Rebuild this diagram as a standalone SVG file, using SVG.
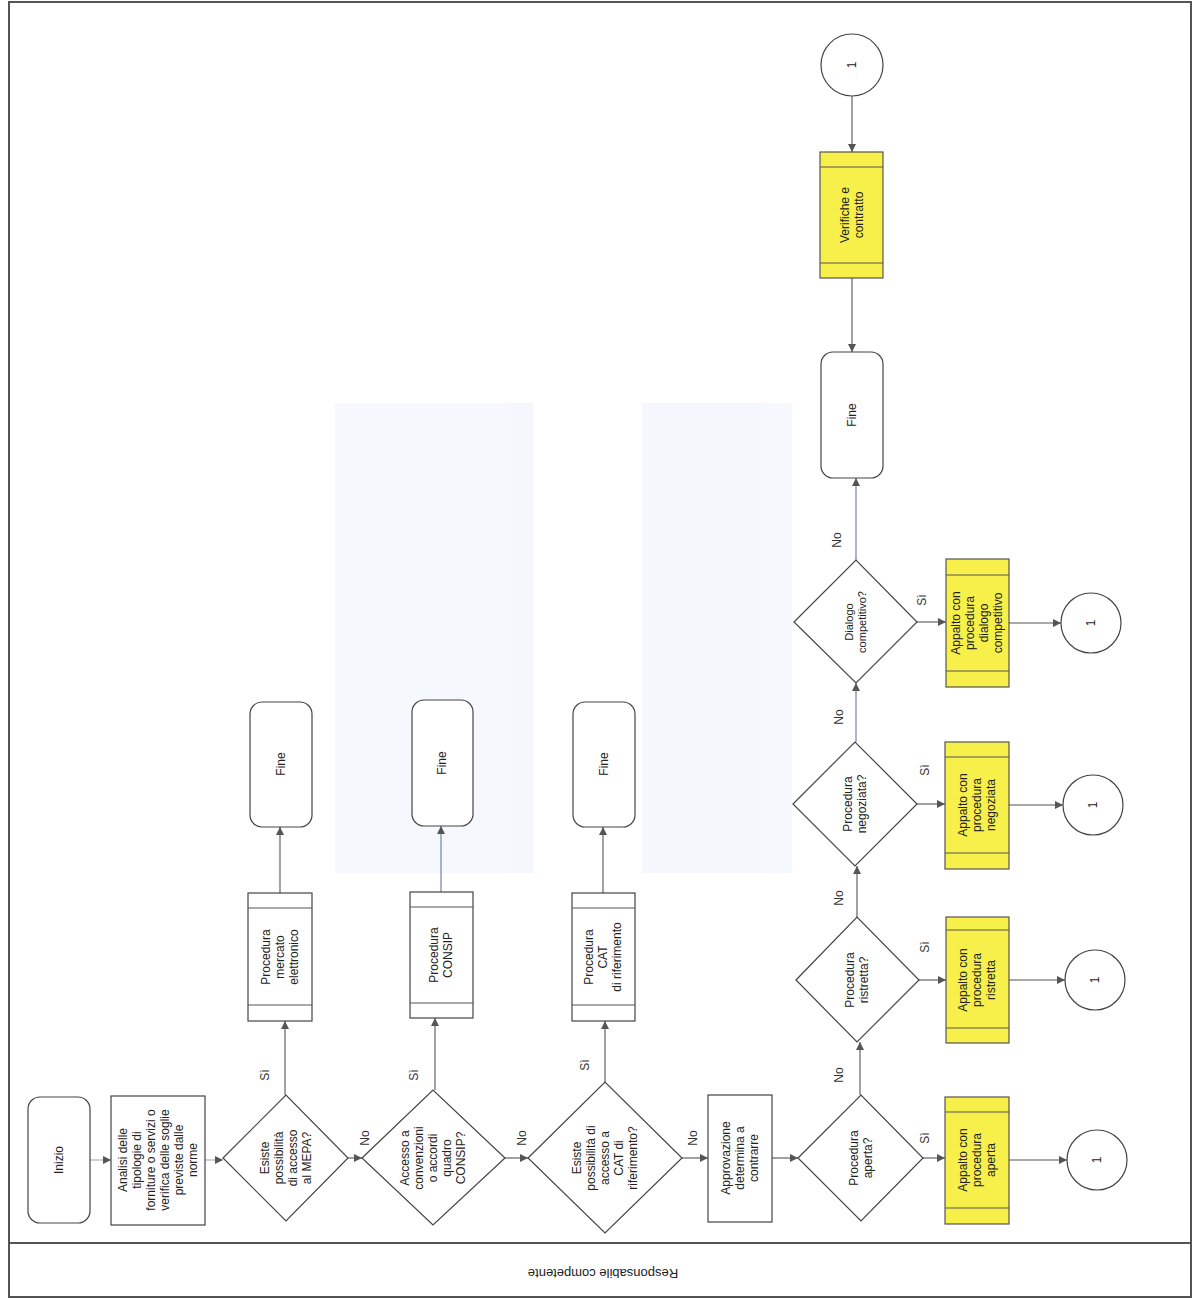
<svg xmlns="http://www.w3.org/2000/svg" width="1194" height="1299" viewBox="0 0 1194 1299">
<defs>
<style>
text{font-family:"Liberation Sans",Arial,sans-serif;font-size:12px;fill:#222;}
.lbl{font-size:12px;fill:#333;}
.node{fill:#fff;stroke:#444;stroke-width:1.2;}
.yel{fill:#f8f04a;stroke:#555;stroke-width:1.2;}
.band{stroke:#555;stroke-width:1;fill:none;}
.con{stroke:#555;stroke-width:1.1;fill:none;marker-end:url(#ah);}
.blue{stroke:#6a76a8;}
.light{stroke:#aaa;}
.frame{fill:none;stroke:#555;stroke-width:2;}
</style>
<marker id="ah" viewBox="0 0 10 10" refX="10" refY="5" markerWidth="9" markerHeight="8" markerUnits="userSpaceOnUse" orient="auto">
<path d="M0,0 L10,5 L0,10 z" fill="#555"/>
</marker>
</defs>
<rect width="1194" height="1299" fill="#fff"/>
<!-- faint watermark -->
<g id="watermark" opacity="0.6">
<rect x="335" y="403" width="198" height="470" fill="#eef5fb"/>
<rect x="642" y="403" width="150" height="470" fill="#eef5fb"/>
</g>
<!-- frame -->
<g id="frame">
<rect class="frame" x="9" y="2" width="1182" height="1295"/>
<line x1="9" y1="1243" x2="1191" y2="1243" stroke="#555" stroke-width="2"/>
<text transform="translate(603,1272) rotate(180)" text-anchor="middle" dominant-baseline="middle" style="font-size:13px">Responsabile competente</text>
</g>
<g id="connectors">
<line class="con light" x1="90" y1="1160" x2="111" y2="1160"/>
<line class="con light" x1="205" y1="1160" x2="223" y2="1160"/>
<line class="con" x1="348" y1="1158" x2="362" y2="1158"/>
<line class="con" x1="505" y1="1158" x2="528" y2="1158"/>
<line class="con" x1="682" y1="1158" x2="708" y2="1158"/>
<line class="con" x1="772" y1="1158" x2="798" y2="1158"/>
<line class="con" x1="923" y1="1158" x2="945" y2="1158"/>
<line class="con" x1="1009" y1="1160" x2="1067" y2="1160"/>
<line class="con" x1="860" y1="1095" x2="860" y2="1042"/>
<line class="con" x1="919" y1="980" x2="946" y2="980"/>
<line class="con" x1="1009" y1="980" x2="1065" y2="980"/>
<line class="con" x1="857" y1="917" x2="857" y2="866"/>
<line class="con" x1="917" y1="804" x2="945" y2="804"/>
<line class="con" x1="1009" y1="805" x2="1063" y2="805"/>
<line class="con blue" x1="856" y1="742" x2="856" y2="683"/>
<line class="con" x1="917" y1="622" x2="946" y2="622"/>
<line class="con" x1="1009" y1="623" x2="1061" y2="623"/>
<line class="con blue" x1="856" y1="560" x2="856" y2="478"/>
<line class="con" x1="852" y1="96" x2="852" y2="152"/>
<line class="con" x1="852" y1="278" x2="852" y2="352"/>
<line class="con" x1="285" y1="1095" x2="285" y2="1021"/>
<line class="con" x1="280" y1="893" x2="280" y2="827"/>
<line class="con" x1="435" y1="1090" x2="435" y2="1018"/>
<line class="con blue" x1="441" y1="892" x2="441" y2="826"/>
<line class="con" x1="605" y1="1082" x2="605" y2="1021"/>
<line class="con" x1="603" y1="893" x2="603" y2="827"/>
<!-- labels -->
<text class="lbl" transform="translate(369,1138) rotate(-90)" text-anchor="middle">No</text>
<text class="lbl" transform="translate(526,1138) rotate(-90)" text-anchor="middle">No</text>
<text class="lbl" transform="translate(697,1138) rotate(-90)" text-anchor="middle">No</text>
<text class="lbl" transform="translate(929,1138) rotate(-90)" text-anchor="middle">Sì</text>
<text class="lbl" transform="translate(929,947) rotate(-90)" text-anchor="middle">Sì</text>
<text class="lbl" transform="translate(929,770) rotate(-90)" text-anchor="middle">Sì</text>
<text class="lbl" transform="translate(926,600) rotate(-90)" text-anchor="middle">Sì</text>
<text class="lbl" transform="translate(843,1075) rotate(-90)" text-anchor="middle">No</text>
<text class="lbl" transform="translate(843,898) rotate(-90)" text-anchor="middle">No</text>
<text class="lbl" transform="translate(843,717) rotate(-90)" text-anchor="middle">No</text>
<text class="lbl" transform="translate(841,540) rotate(-90)" text-anchor="middle">No</text>
<text class="lbl" transform="translate(269,1075) rotate(-90)" text-anchor="middle">Sì</text>
<text class="lbl" transform="translate(418,1075) rotate(-90)" text-anchor="middle">Sì</text>
<text class="lbl" transform="translate(589,1065) rotate(-90)" text-anchor="middle">Sì</text>
</g>
<g id="inizio">
<rect class="node" x="28" y="1097" width="62" height="126" rx="12"/>
<text transform="translate(59,1160) rotate(-90)" text-anchor="middle" dy="4">Inizio</text>
</g>
<g id="analisi">
<rect class="node" x="111" y="1096" width="94" height="129"/>
<text transform="translate(158,1160) rotate(-90)" text-anchor="middle"><tspan x="0" dy="-31">Analisi delle</tspan><tspan x="0" dy="14">tipologie di</tspan><tspan x="0" dy="14">forniture o servizi o</tspan><tspan x="0" dy="14">verifica delle soglie</tspan><tspan x="0" dy="14">previste dalle</tspan><tspan x="0" dy="14">norme</tspan></text>
</g>
<g id="d-mepa">
<polygon class="node" points="223,1158 286,1095 348,1158 286,1221"/>
<text transform="translate(286,1158) rotate(-90)" text-anchor="middle"><tspan x="0" dy="-17">Esiste</tspan><tspan x="0" dy="14">possibilità</tspan><tspan x="0" dy="14">di accesso</tspan><tspan x="0" dy="14">al MEPA?</tspan></text>
</g>
<g id="d-consip">
<polygon class="node" points="362,1158 433,1090 505,1158 433,1225"/>
<text transform="translate(433,1158) rotate(-90)" text-anchor="middle"><tspan x="0" dy="-24">Accesso a</tspan><tspan x="0" dy="14">convenzioni</tspan><tspan x="0" dy="14">o accordi</tspan><tspan x="0" dy="14">quadro</tspan><tspan x="0" dy="14">CONSIP?</tspan></text>
</g>
<g id="d-cat">
<polygon class="node" points="528,1158 605,1082 682,1158 605,1233"/>
<text transform="translate(605,1158) rotate(-90)" text-anchor="middle"><tspan x="0" dy="-24">Esiste</tspan><tspan x="0" dy="14">possibilità di</tspan><tspan x="0" dy="14">accesso a</tspan><tspan x="0" dy="14">CAT di</tspan><tspan x="0" dy="14">riferimento?</tspan></text>
</g>
<g id="approvazione">
<rect class="node" x="708" y="1095" width="64" height="127"/>
<text transform="translate(740,1158) rotate(-90)" text-anchor="middle"><tspan x="0" dy="-10">Approvazione</tspan><tspan x="0" dy="14">determina a</tspan><tspan x="0" dy="14">contrarre</tspan></text>
</g>
<g id="d-aperta">
<polygon class="node" points="798,1158 861,1095 923,1158 861,1221"/>
<text transform="translate(861,1158) rotate(-90)" text-anchor="middle"><tspan x="0" dy="-3">Procedura</tspan><tspan x="0" dy="14">aperta?</tspan></text>
</g>
<g id="y-aperta">
<rect class="yel" x="945" y="1097" width="64" height="127"/>
<line class="band" x1="945" y1="1112" x2="1009" y2="1112"/>
<line class="band" x1="945" y1="1208" x2="1009" y2="1208"/>
<text transform="translate(977,1160) rotate(-90)" text-anchor="middle"><tspan x="0" dy="-10">Appalto con</tspan><tspan x="0" dy="14">procedura</tspan><tspan x="0" dy="14">aperta</tspan></text>
</g>
<g id="c-aperta">
<circle class="node" cx="1097" cy="1160" r="30"/>
<text transform="translate(1097,1160) rotate(-90)" text-anchor="middle" dy="4">1</text>
</g>
<g id="d-ristretta">
<polygon class="node" points="796,980 857,917 919,980 857,1042"/>
<text transform="translate(857,980) rotate(-90)" text-anchor="middle"><tspan x="0" dy="-3">Procedura</tspan><tspan x="0" dy="14">ristretta?</tspan></text>
</g>
<g id="y-ristretta">
<rect class="yel" x="946" y="917" width="63" height="126"/>
<line class="band" x1="946" y1="930" x2="1009" y2="930"/>
<line class="band" x1="946" y1="1028" x2="1009" y2="1028"/>
<text transform="translate(977,980) rotate(-90)" text-anchor="middle"><tspan x="0" dy="-10">Appalto con</tspan><tspan x="0" dy="14">procedura</tspan><tspan x="0" dy="14">ristretta</tspan></text>
</g>
<g id="c-ristretta">
<circle class="node" cx="1095" cy="980" r="30"/>
<text transform="translate(1095,980) rotate(-90)" text-anchor="middle" dy="4">1</text>
</g>
<g id="d-negoziata">
<polygon class="node" points="793,804 855,742 917,804 855,866"/>
<text transform="translate(855,804) rotate(-90)" text-anchor="middle"><tspan x="0" dy="-3">Procedura</tspan><tspan x="0" dy="14">negoziata?</tspan></text>
</g>
<g id="y-negoziata">
<rect class="yel" x="945" y="742" width="64" height="127"/>
<line class="band" x1="945" y1="757" x2="1009" y2="757"/>
<line class="band" x1="945" y1="853" x2="1009" y2="853"/>
<text transform="translate(977,805) rotate(-90)" text-anchor="middle"><tspan x="0" dy="-10">Appalto con</tspan><tspan x="0" dy="14">procedura</tspan><tspan x="0" dy="14">negoziata</tspan></text>
</g>
<g id="c-negoziata">
<circle class="node" cx="1093" cy="805" r="30"/>
<text transform="translate(1093,805) rotate(-90)" text-anchor="middle" dy="4">1</text>
</g>
<g id="d-dialogo">
<polygon class="node" points="794,622 856,560 917,622 856,683"/>
<text transform="translate(856,622) rotate(-90)" text-anchor="middle" style="font-size:11px"><tspan x="0" dy="-3">Dialogo</tspan><tspan x="0" dy="13">competitivo?</tspan></text>
</g>
<g id="y-dialogo">
<rect class="yel" x="946" y="559" width="63" height="128"/>
<line class="band" x1="946" y1="575" x2="1009" y2="575"/>
<line class="band" x1="946" y1="671" x2="1009" y2="671"/>
<text transform="translate(977,623) rotate(-90)" text-anchor="middle"><tspan x="0" dy="-17">Appalto con</tspan><tspan x="0" dy="14">procedura</tspan><tspan x="0" dy="14">dialogo</tspan><tspan x="0" dy="14">competitivo</tspan></text>
</g>
<g id="c-dialogo">
<circle class="node" cx="1091" cy="623" r="30"/>
<text transform="translate(1091,623) rotate(-90)" text-anchor="middle" dy="4">1</text>
</g>
<g id="fine-main">
<rect class="node" x="821" y="352" width="62" height="126" rx="12"/>
<text transform="translate(852,415) rotate(-90)" text-anchor="middle" dy="4">Fine</text>
</g>
<g id="verifiche">
<rect class="yel" x="820" y="152" width="63" height="126"/>
<line class="band" x1="820" y1="167" x2="883" y2="167"/>
<line class="band" x1="820" y1="263" x2="883" y2="263"/>
<text transform="translate(852,215) rotate(-90)" text-anchor="middle"><tspan x="0" dy="-3">Verifiche e</tspan><tspan x="0" dy="14">contratto</tspan></text>
</g>
<g id="c-top">
<circle class="node" cx="852" cy="65" r="31"/>
<text transform="translate(852,65) rotate(-90)" text-anchor="middle" dy="4">1</text>
</g>
<g id="p-mepa">
<rect class="node" x="248" y="893" width="64" height="128"/>
<line class="band" x1="248" y1="908" x2="312" y2="908"/>
<line class="band" x1="248" y1="1005" x2="312" y2="1005"/>
<text transform="translate(280,957) rotate(-90)" text-anchor="middle"><tspan x="0" dy="-10">Procedura</tspan><tspan x="0" dy="14">mercato</tspan><tspan x="0" dy="14">elettronico</tspan></text>
</g>
<g id="fine-mepa">
<rect class="node" x="250" y="702" width="62" height="125" rx="12"/>
<text transform="translate(281,764) rotate(-90)" text-anchor="middle" dy="4">Fine</text>
</g>
<g id="p-consip">
<rect class="node" x="410" y="892" width="63" height="126"/>
<line class="band" x1="410" y1="907" x2="473" y2="907"/>
<line class="band" x1="410" y1="1003" x2="473" y2="1003"/>
<text transform="translate(441,955) rotate(-90)" text-anchor="middle"><tspan x="0" dy="-3">Procedura</tspan><tspan x="0" dy="14">CONSIP</tspan></text>
</g>
<g id="fine-consip">
<rect class="node" x="412" y="700" width="61" height="126" rx="12"/>
<text transform="translate(442,763) rotate(-90)" text-anchor="middle" dy="4">Fine</text>
</g>
<g id="p-cat">
<rect class="node" x="572" y="893" width="63" height="128"/>
<line class="band" x1="572" y1="908" x2="635" y2="908"/>
<line class="band" x1="572" y1="1005" x2="635" y2="1005"/>
<text transform="translate(603,957) rotate(-90)" text-anchor="middle"><tspan x="0" dy="-10">Procedura</tspan><tspan x="0" dy="14">CAT</tspan><tspan x="0" dy="14">di riferimento</tspan></text>
</g>
<g id="fine-cat">
<rect class="node" x="573" y="702" width="62" height="125" rx="12"/>
<text transform="translate(604,764) rotate(-90)" text-anchor="middle" dy="4">Fine</text>
</g>
</svg>
